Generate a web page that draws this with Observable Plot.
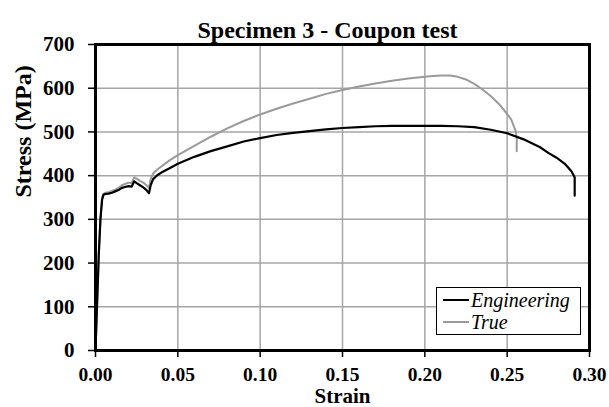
<!DOCTYPE html>
<html><head><meta charset="utf-8">
<script src="https://cdn.jsdelivr.net/npm/d3@7"></script>
<script src="https://cdn.jsdelivr.net/npm/@observablehq/plot@0.6"></script>
<style>
body{margin:0;background:#fff;}
#wrap{position:relative;width:609px;height:407px;font-family:"Liberation Serif",serif;}
#legend{position:absolute;left:436px;top:287px;width:145px;height:48px;box-sizing:border-box;border:1px solid #000;background:#fff;padding-top:1px;}
.row{display:flex;align-items:center;height:22px;font-style:italic;font-size:20px;line-height:22px;}
.sw{width:26px;height:0;margin-left:6px;margin-right:2px;}
</style></head><body><div id="wrap"></div>
<script>
const title = "Specimen 3 - Coupon test";
const xLabel = "Strain";
const yLabel = "Stress (MPa)";
const seriesNames = ["Engineering", "True"];
const seriesColors = ["#000000", "#9a9a9a"];
const xTicks = [0, 0.05, 0.10, 0.15, 0.20, 0.25, 0.30];
const yTicks = [0, 100, 200, 300, 400, 500, 600, 700];

const engStrain = [0, 0.001, 0.002, 0.003, 0.004, 0.0048, 0.006, 0.008, 0.010, 0.012, 0.014, 0.016, 0.018, 0.020, 0.022, 0.0235, 0.025, 0.027, 0.029, 0.031, 0.032, 0.0325, 0.0335, 0.035, 0.0375, 0.040, 0.045, 0.050, 0.060, 0.070, 0.080, 0.090, 0.100, 0.110, 0.120, 0.130, 0.140, 0.150, 0.160, 0.170, 0.180, 0.190, 0.200, 0.210, 0.220, 0.230, 0.240, 0.250, 0.260, 0.270, 0.275, 0.280, 0.285, 0.289, 0.291, 0.291];
const engStress = [0, 110, 220, 300, 345, 356, 358, 359, 361, 364, 367, 372, 374, 376, 375, 387, 383, 378, 373, 367, 362, 360, 378, 392, 401, 407, 417, 427, 443, 456, 467, 478, 486, 493, 498, 502, 506, 509, 511, 513, 514, 514, 514, 514, 513, 511, 505, 497, 483, 465, 452, 441, 427, 410, 396, 354];

const trueStrain = [0, 0.001, 0.002, 0.003, 0.004, 0.0048, 0.006, 0.008, 0.010, 0.012, 0.014, 0.016, 0.018, 0.020, 0.022, 0.0235, 0.025, 0.027, 0.029, 0.031, 0.032, 0.0325, 0.0335, 0.035, 0.0375, 0.040, 0.045, 0.050, 0.060, 0.070, 0.080, 0.090, 0.100, 0.110, 0.120, 0.130, 0.140, 0.150, 0.160, 0.170, 0.180, 0.190, 0.200, 0.205, 0.210, 0.215, 0.220, 0.225, 0.230, 0.235, 0.240, 0.245, 0.250, 0.2525, 0.2552, 0.2558, 0.2558];
const trueStress = [0, 110, 220, 301, 347, 358, 361, 362, 365, 368, 372, 378, 381, 384, 383, 396, 393, 388, 384, 378, 374, 372, 392, 405, 414, 421, 435, 447, 468, 489, 508, 525, 540, 553, 565, 576, 587, 596, 604, 611, 617, 622, 626, 628, 629, 629, 626, 620, 610, 597, 582, 564, 541, 528, 502, 487, 456];

const eng = engStrain.map((s, i) => ({strain: s, stress: engStress[i]}));
const tru = trueStrain.map((s, i) => ({strain: s, stress: trueStress[i]}));

const font = '"Liberation Serif", serif';
const chart = Plot.plot({
  width: 609, height: 407,
  marginLeft: 95, marginRight: 20, marginTop: 44, marginBottom: 57,
  style: {fontFamily: font, background: "#fff", color: "#000", overflow: "visible"},
  x: {domain: [0, 0.3]},
  y: {domain: [0, 700]},
  marks: [
    Plot.gridX(xTicks, {stroke: "#a6a6a6", strokeOpacity: 1, strokeWidth: 1.5}),
    Plot.gridY(yTicks, {stroke: "#a6a6a6", strokeOpacity: 1, strokeWidth: 1.5}),
    Plot.line(tru, {x: "strain", y: "stress", stroke: seriesColors[1], strokeWidth: 2}),
    Plot.line(eng, {x: "strain", y: "stress", stroke: seriesColors[0], strokeWidth: 2.2}),
    Plot.frame({stroke: "#000", strokeWidth: 3}),
    Plot.axisX(xTicks, {tickSize: 7, tickPadding: 10, strokeWidth: 1.5, tickFormat: d3.format(".2f"), fontSize: 19.5, fontWeight: "bold", label: null}),
    Plot.axisY(yTicks, {tickSize: 7, tickPadding: 14, strokeWidth: 1.5, fontSize: 21, fontWeight: "bold", label: null}),
    Plot.text([title], {text: d => d, frameAnchor: "top", dx: -15, dy: -7, lineAnchor: "bottom", fontSize: 24, fontWeight: "bold"}),
    Plot.text([xLabel], {text: d => d, frameAnchor: "bottom", dy: 52, lineAnchor: "bottom", fontSize: 21, fontWeight: "bold"}),
    Plot.text([yLabel], {text: d => d, frameAnchor: "left", dx: -72, rotate: -90, fontSize: 24, fontWeight: "bold"})
  ]
});
const wrap = document.getElementById("wrap");
wrap.appendChild(chart);
const legend = document.createElement("div");
legend.id = "legend";
seriesNames.forEach((name, i) => {
  const row = document.createElement("div");
  row.className = "row";
  const sw = document.createElement("span");
  sw.className = "sw";
  sw.style.borderTop = `2px solid ${seriesColors[i]}`;
  row.appendChild(sw);
  const t = document.createElement("span");
  t.textContent = name;
  row.appendChild(t);
  legend.appendChild(row);
});
wrap.appendChild(legend);
</script></body></html>
